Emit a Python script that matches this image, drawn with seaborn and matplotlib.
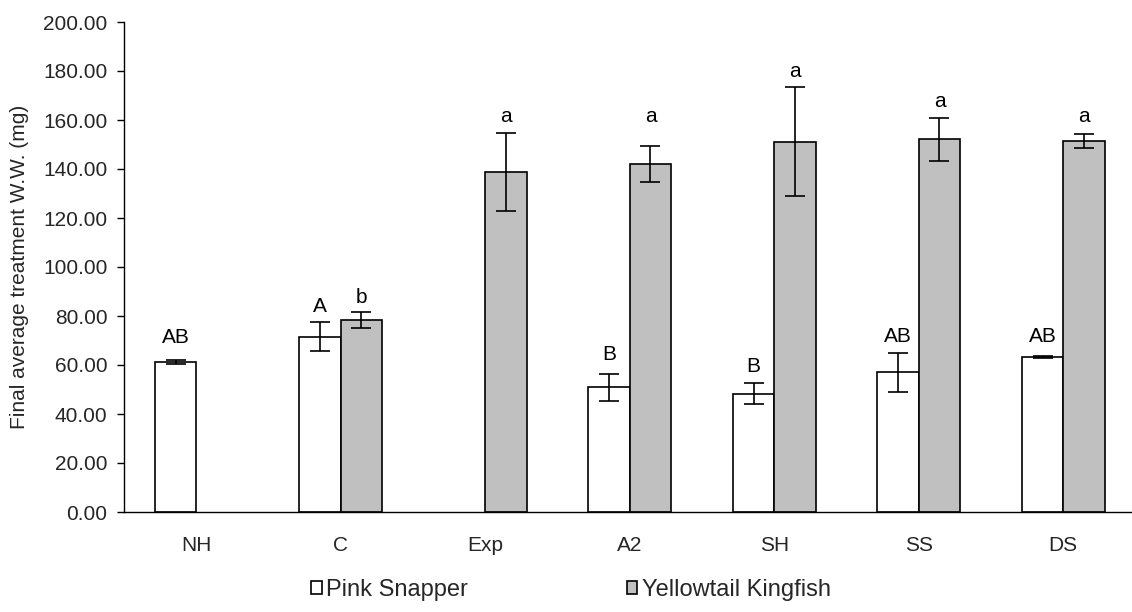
# Final average wet weight per treatment, Pink Snapper vs Yellowtail Kingfish
import matplotlib
matplotlib.use("Agg")
import matplotlib.pyplot as plt
import seaborn as sns
import pandas as pd
import numpy as np

# Data
treatments = ["NH", "C", "Exp", "A2", "SH", "SS", "DS"]
species = ["Pink Snapper", "Yellowtail Kingfish"]

snapper_mean = [61.3, 71.6, np.nan, 50.9, 48.3, 57.1, 63.3]
snapper_err = [0.9, 6.0, np.nan, 5.6, 4.4, 8.0, 0.5]
snapper_letter = ["AB", "A", "", "B", "B", "AB", "AB"]
snapper_letter_y = [69.0, 81.6, np.nan, 62.0, 57.3, 69.5, 69.5]

kingfish_mean = [np.nan, 78.4, 138.6, 142.0, 151.1, 152.1, 151.4]
kingfish_err = [np.nan, 3.3, 15.9, 7.5, 22.2, 8.9, 3.0]
kingfish_letter = ["", "b", "a", "a", "a", "a", "a"]
kingfish_letter_y = [np.nan, 85.3, 159.3, 159.3, 177.7, 165.4, 159.3]

# Long table for seaborn
df = pd.concat([
    pd.DataFrame({"treatment": treatments, "species": species[0], "weight": snapper_mean, "err": snapper_err}),
    pd.DataFrame({"treatment": treatments, "species": species[1], "weight": kingfish_mean, "err": kingfish_err}),
], ignore_index=True).dropna(subset=["weight"])

sns.set_style("white")
plt.rcParams["font.family"] = ["Liberation Sans", "DejaVu Sans"]
fs = 15

fig = plt.figure(figsize=(11.32, 6.12), dpi=100)
ax = fig.add_axes([124 / 1132, 1 - 512 / 612, 1011.5 / 1132, 490 / 612])

width = 0.574
sns.barplot(data=df, x="treatment", y="weight", hue="species", order=treatments,
            hue_order=species, palette=["white", "#C0C0C0"], edgecolor="black",
            linewidth=1.2, width=width, errorbar=None, saturation=1, ax=ax)

# error bars and significance letters
offsets = [-width / 4, width / 4]
for k, (means, errs, letters, ly) in enumerate([
        (snapper_mean, snapper_err, snapper_letter, snapper_letter_y),
        (kingfish_mean, kingfish_err, kingfish_letter, kingfish_letter_y)]):
    x = np.arange(len(treatments)) + offsets[k]
    ax.errorbar(x, means, yerr=errs, fmt="none", ecolor="black",
                elinewidth=1.2, capsize=7, capthick=1.2, zorder=5)
    for xi, lab, yy in zip(x, letters, ly):
        if lab:
            ax.text(xi, yy, lab, ha="center", va="baseline", fontsize=fs, color="black")

# axes styling
ax.set_xlim(-0.5, 6.5)
ax.set_ylim(0, 200)
ax.set_yticks(np.arange(0, 201, 20))
ax.set_yticklabels([f"{v:.2f}" for v in np.arange(0, 201, 20)], fontsize=fs)
ax.set_xticks(range(len(treatments)))
ax.set_xticklabels(treatments, fontsize=fs)
ax.set_xticks(np.arange(-0.5, 7, 1), minor=True)
ax.tick_params(axis="x", which="major", length=0, pad=17)
ax.tick_params(axis="x", which="minor", length=5, width=1, direction="out", color="black")
ax.tick_params(axis="y", length=5, width=1, direction="out", color="black", pad=7, left=True)
ax.set_xlabel("")
ax.set_ylabel("Final average treatment W.W. (mg)", fontsize=fs)
ax.yaxis.set_label_coords(-0.094, 0.5)
sns.despine(ax=ax, top=True, right=True)
for side in ["left", "bottom"]:
    ax.spines[side].set_color("black")
    ax.spines[side].set_linewidth(1)

handles, labels = ax.get_legend_handles_labels()
ax.get_legend().remove()
fig.legend(handles, labels, loc="center", bbox_to_anchor=(571 / 1132, 1 - 590 / 612),
           ncol=2, frameon=False, fontsize=17, handlelength=0.45, handleheight=0.45,
           handletextpad=0.2, columnspacing=6.7)

fig.savefig("out.png", dpi=100)
